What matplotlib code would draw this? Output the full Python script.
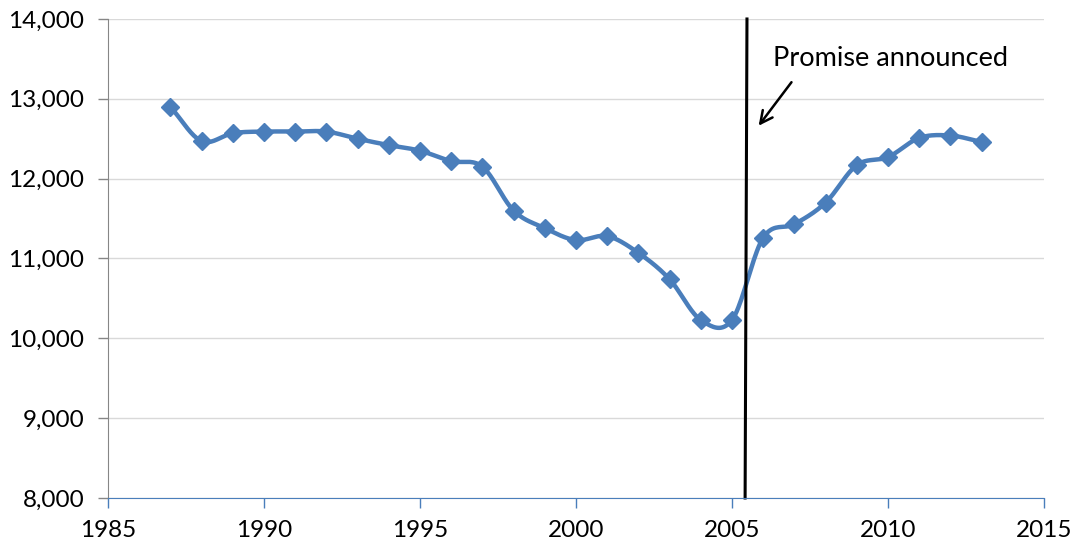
import numpy as np
import matplotlib
matplotlib.use("Agg")
import matplotlib.pyplot as plt

years = list(range(1987, 2014))
values = [12900, 12470, 12570, 12590, 12590, 12590, 12500, 12420, 12350,
          12220, 12150, 11600, 11380, 11230, 11280, 11070, 10740, 10230,
          10230, 11260, 11430, 11700, 12170, 12270, 12510, 12540, 12460]
xticks = [1985, 1990, 1995, 2000, 2005, 2010, 2015]
yticks = [8000, 9000, 10000, 11000, 12000, 13000, 14000]
event_year = 2005.45
annotation_text = "Promise announced"

plt.rcParams['font.family'] = ['Lato', 'DejaVu Sans']

def catmull_rom(x, y, n=20):
    x = np.asarray(x, float); y = np.asarray(y, float)
    px = np.concatenate([[2*x[0]-x[1]], x, [2*x[-1]-x[-2]]])
    py = np.concatenate([[2*y[0]-y[1]], y, [2*y[-1]-y[-2]]])
    xs, ys = [], []
    t = np.linspace(0, 1, n, endpoint=False)
    for i in range(1, len(px)-2):
        for arr, out in ((px, xs), (py, ys)):
            p0, p1, p2, p3 = arr[i-1], arr[i], arr[i+1], arr[i+2]
            out.extend(0.5*((2*p1) + (-p0+p2)*t + (2*p0-5*p1+4*p2-p3)*t**2
                            + (-p0+3*p1-3*p2+p3)*t**3))
    xs.append(x[-1]); ys.append(y[-1])
    return np.array(xs), np.array(ys)

fig = plt.figure(figsize=(10.76, 5.5), dpi=100)
ax = fig.add_axes([108/1076, 1-498/550, (1044-108)/1076, (498-19)/550])

blue = '#4a7ebb'
sx, sy = catmull_rom(years, values)
ax.plot(sx, sy, color=blue, lw=3.2, solid_capstyle='round', zorder=3)
ax.plot(years, values, linestyle='none', marker='D', markersize=9.5,
        color=blue, zorder=4)

ax.plot([event_year+0.03, event_year-0.03], [14000, 8000], color='black',
        lw=2.2, zorder=5, clip_on=False)

ax.annotate('', xy=(2005.80, 12635), xytext=(2006.96, 13236),
            arrowprops=dict(arrowstyle='->', color='black', lw=1.8,
                            mutation_scale=22))
ax.text(2006.31, 13511, annotation_text, fontsize=19.5, va='center', ha='left')

ax.set_xlim(1985, 2015)
ax.set_ylim(8000, 14000)
ax.set_xticks(xticks)
ax.set_yticks(yticks)
ax.set_yticklabels([f"{v:,}" for v in yticks])
ax.tick_params(axis='both', labelsize=17.5, length=7, width=1)
ax.tick_params(axis='y', colors='#868686', labelcolor='black', pad=10)
ax.tick_params(axis='x', colors=blue, labelcolor='black', pad=9)
ax.grid(axis='y', color='#d9d9d9', lw=1)
ax.set_axisbelow(True)
for s in ['top', 'right']:
    ax.spines[s].set_visible(False)
ax.spines['left'].set_color('#868686')
ax.spines['bottom'].set_color(blue)
ax.spines['bottom'].set_zorder(6)

fig.savefig('out.png', dpi=100)
